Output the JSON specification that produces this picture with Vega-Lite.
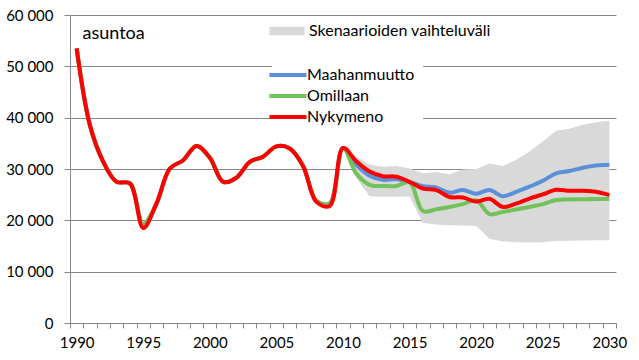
{
  "$schema": "https://vega.github.io/schema/vega-lite/v6.json",
  "width": 546,
  "height": 308,
  "autosize": "none",
  "padding": {"left": 70, "top": 15, "right": 23, "bottom": 37},
  "background": "white",
  "config": {
    "view": {"stroke": null},
    "font": "Lato",
    "axis": {"labelFont": "Lato", "labelFontSize": 15, "labelColor": "#000000", "domainColor": "#878787", "tickColor": "#878787", "gridColor": "#878787", "gridWidth": 1}
  },
  "resolve": {"axis": {"x": "independent", "y": "independent"}},
  "datasets": {
    "lines": [
      {"year": 1990, "series": "Maahanmuutto", "value": 53500},
      {"year": 1991, "series": "Maahanmuutto", "value": 38500},
      {"year": 1992, "series": "Maahanmuutto", "value": 31400},
      {"year": 1993, "series": "Maahanmuutto", "value": 27500},
      {"year": 1994, "series": "Maahanmuutto", "value": 27200},
      {"year": 1995, "series": "Maahanmuutto", "value": 19300},
      {"year": 1996, "series": "Maahanmuutto", "value": 23300},
      {"year": 1997, "series": "Maahanmuutto", "value": 30100},
      {"year": 1998, "series": "Maahanmuutto", "value": 31700},
      {"year": 1999, "series": "Maahanmuutto", "value": 34500},
      {"year": 2000, "series": "Maahanmuutto", "value": 32200},
      {"year": 2001, "series": "Maahanmuutto", "value": 27500},
      {"year": 2002, "series": "Maahanmuutto", "value": 28300},
      {"year": 2003, "series": "Maahanmuutto", "value": 31400},
      {"year": 2004, "series": "Maahanmuutto", "value": 32400},
      {"year": 2005, "series": "Maahanmuutto", "value": 34400},
      {"year": 2006, "series": "Maahanmuutto", "value": 34000},
      {"year": 2007, "series": "Maahanmuutto", "value": 30600},
      {"year": 2008, "series": "Maahanmuutto", "value": 23800},
      {"year": 2009, "series": "Maahanmuutto", "value": 23300},
      {"year": 2010, "series": "Maahanmuutto", "value": 34100},
      {"year": 2011, "series": "Maahanmuutto", "value": 30800},
      {"year": 2012, "series": "Maahanmuutto", "value": 28700},
      {"year": 2013, "series": "Maahanmuutto", "value": 27900},
      {"year": 2014, "series": "Maahanmuutto", "value": 28000},
      {"year": 2015, "series": "Maahanmuutto", "value": 27500},
      {"year": 2016, "series": "Maahanmuutto", "value": 26650},
      {"year": 2017, "series": "Maahanmuutto", "value": 26400},
      {"year": 2018, "series": "Maahanmuutto", "value": 25400},
      {"year": 2019, "series": "Maahanmuutto", "value": 25900},
      {"year": 2020, "series": "Maahanmuutto", "value": 25200},
      {"year": 2021, "series": "Maahanmuutto", "value": 25900},
      {"year": 2022, "series": "Maahanmuutto", "value": 24700},
      {"year": 2023, "series": "Maahanmuutto", "value": 25550},
      {"year": 2024, "series": "Maahanmuutto", "value": 26550},
      {"year": 2025, "series": "Maahanmuutto", "value": 27700},
      {"year": 2026, "series": "Maahanmuutto", "value": 29150},
      {"year": 2027, "series": "Maahanmuutto", "value": 29600},
      {"year": 2028, "series": "Maahanmuutto", "value": 30250},
      {"year": 2029, "series": "Maahanmuutto", "value": 30700},
      {"year": 2030, "series": "Maahanmuutto", "value": 30850},
      {"year": 1990, "series": "Omillaan", "value": 53500},
      {"year": 1991, "series": "Omillaan", "value": 38500},
      {"year": 1992, "series": "Omillaan", "value": 31400},
      {"year": 1993, "series": "Omillaan", "value": 27500},
      {"year": 1994, "series": "Omillaan", "value": 27200},
      {"year": 1995, "series": "Omillaan", "value": 19300},
      {"year": 1996, "series": "Omillaan", "value": 23300},
      {"year": 1997, "series": "Omillaan", "value": 30100},
      {"year": 1998, "series": "Omillaan", "value": 31700},
      {"year": 1999, "series": "Omillaan", "value": 34500},
      {"year": 2000, "series": "Omillaan", "value": 32200},
      {"year": 2001, "series": "Omillaan", "value": 27500},
      {"year": 2002, "series": "Omillaan", "value": 28300},
      {"year": 2003, "series": "Omillaan", "value": 31400},
      {"year": 2004, "series": "Omillaan", "value": 32400},
      {"year": 2005, "series": "Omillaan", "value": 34400},
      {"year": 2006, "series": "Omillaan", "value": 34000},
      {"year": 2007, "series": "Omillaan", "value": 30600},
      {"year": 2008, "series": "Omillaan", "value": 23800},
      {"year": 2009, "series": "Omillaan", "value": 23300},
      {"year": 2010, "series": "Omillaan", "value": 34100},
      {"year": 2011, "series": "Omillaan", "value": 29100},
      {"year": 2012, "series": "Omillaan", "value": 26900},
      {"year": 2013, "series": "Omillaan", "value": 26700},
      {"year": 2014, "series": "Omillaan", "value": 26700},
      {"year": 2015, "series": "Omillaan", "value": 27400},
      {"year": 2016, "series": "Omillaan", "value": 21800},
      {"year": 2017, "series": "Omillaan", "value": 22150},
      {"year": 2018, "series": "Omillaan", "value": 22600},
      {"year": 2019, "series": "Omillaan", "value": 23150},
      {"year": 2020, "series": "Omillaan", "value": 23900},
      {"year": 2021, "series": "Omillaan", "value": 21200},
      {"year": 2022, "series": "Omillaan", "value": 21650},
      {"year": 2023, "series": "Omillaan", "value": 22100},
      {"year": 2024, "series": "Omillaan", "value": 22600},
      {"year": 2025, "series": "Omillaan", "value": 23150},
      {"year": 2026, "series": "Omillaan", "value": 23950},
      {"year": 2027, "series": "Omillaan", "value": 24050},
      {"year": 2028, "series": "Omillaan", "value": 24100},
      {"year": 2029, "series": "Omillaan", "value": 24150},
      {"year": 2030, "series": "Omillaan", "value": 24150},
      {"year": 1990, "series": "Nykymeno", "value": 53500},
      {"year": 1991, "series": "Nykymeno", "value": 38500},
      {"year": 1992, "series": "Nykymeno", "value": 31400},
      {"year": 1993, "series": "Nykymeno", "value": 27500},
      {"year": 1994, "series": "Nykymeno", "value": 27200},
      {"year": 1995, "series": "Nykymeno", "value": 18500},
      {"year": 1996, "series": "Nykymeno", "value": 23300},
      {"year": 1997, "series": "Nykymeno", "value": 30100},
      {"year": 1998, "series": "Nykymeno", "value": 31700},
      {"year": 1999, "series": "Nykymeno", "value": 34500},
      {"year": 2000, "series": "Nykymeno", "value": 32200},
      {"year": 2001, "series": "Nykymeno", "value": 27500},
      {"year": 2002, "series": "Nykymeno", "value": 28300},
      {"year": 2003, "series": "Nykymeno", "value": 31400},
      {"year": 2004, "series": "Nykymeno", "value": 32400},
      {"year": 2005, "series": "Nykymeno", "value": 34400},
      {"year": 2006, "series": "Nykymeno", "value": 34000},
      {"year": 2007, "series": "Nykymeno", "value": 30600},
      {"year": 2008, "series": "Nykymeno", "value": 23600},
      {"year": 2009, "series": "Nykymeno", "value": 22800},
      {"year": 2010, "series": "Nykymeno", "value": 34100},
      {"year": 2011, "series": "Nykymeno", "value": 31500},
      {"year": 2012, "series": "Nykymeno", "value": 29500},
      {"year": 2013, "series": "Nykymeno", "value": 28600},
      {"year": 2014, "series": "Nykymeno", "value": 28500},
      {"year": 2015, "series": "Nykymeno", "value": 27500},
      {"year": 2016, "series": "Nykymeno", "value": 26200},
      {"year": 2017, "series": "Nykymeno", "value": 25900},
      {"year": 2018, "series": "Nykymeno", "value": 24550},
      {"year": 2019, "series": "Nykymeno", "value": 24450},
      {"year": 2020, "series": "Nykymeno", "value": 23650},
      {"year": 2021, "series": "Nykymeno", "value": 24200},
      {"year": 2022, "series": "Nykymeno", "value": 22600},
      {"year": 2023, "series": "Nykymeno", "value": 23250},
      {"year": 2024, "series": "Nykymeno", "value": 24250},
      {"year": 2025, "series": "Nykymeno", "value": 25050},
      {"year": 2026, "series": "Nykymeno", "value": 25950},
      {"year": 2027, "series": "Nykymeno", "value": 25750},
      {"year": 2028, "series": "Nykymeno", "value": 25750},
      {"year": 2029, "series": "Nykymeno", "value": 25550},
      {"year": 2030, "series": "Nykymeno", "value": 24900}
    ],
    "band": [
      {"year": 2010, "lo": 34100, "hi": 34100},
      {"year": 2011, "lo": 28200, "hi": 32400},
      {"year": 2012, "lo": 24700, "hi": 30900},
      {"year": 2013, "lo": 24600, "hi": 30450},
      {"year": 2014, "lo": 24600, "hi": 30600},
      {"year": 2015, "lo": 24600, "hi": 30100},
      {"year": 2016, "lo": 19500, "hi": 29150},
      {"year": 2017, "lo": 19200, "hi": 29400},
      {"year": 2018, "lo": 19050, "hi": 29000},
      {"year": 2019, "lo": 19000, "hi": 29900},
      {"year": 2020, "lo": 18900, "hi": 30000},
      {"year": 2021, "lo": 16400, "hi": 31050},
      {"year": 2022, "lo": 15900, "hi": 30600},
      {"year": 2023, "lo": 15750, "hi": 31770},
      {"year": 2024, "lo": 15700, "hi": 33400},
      {"year": 2025, "lo": 15750, "hi": 35360},
      {"year": 2026, "lo": 15950, "hi": 37460},
      {"year": 2027, "lo": 16000, "hi": 37850},
      {"year": 2028, "lo": 16050, "hi": 38630},
      {"year": 2029, "lo": 16100, "hi": 39100},
      {"year": 2030, "lo": 16100, "hi": 39400}
    ]
  },
  "layer": [
    {
      "data": {"name": "band"},
      "mark": {"type": "area", "opacity": 1},
      "encoding": {
        "x": {
          "field": "year", "type": "quantitative",
          "scale": {"domain": [1989.5, 2030.5], "nice": false, "zero": false},
          "axis": {
            "orient": "bottom",
            "title": null,
            "grid": false,
            "labels": false,
            "values": [1989.5, 1990.5, 1991.5, 1992.5, 1993.5, 1994.5, 1995.5, 1996.5, 1997.5, 1998.5, 1999.5, 2000.5, 2001.5, 2002.5, 2003.5, 2004.5, 2005.5, 2006.5, 2007.5, 2008.5, 2009.5, 2010.5, 2011.5, 2012.5, 2013.5, 2014.5, 2015.5, 2016.5, 2017.5, 2018.5, 2019.5, 2020.5, 2021.5, 2022.5, 2023.5, 2024.5, 2025.5, 2026.5, 2027.5, 2028.5, 2029.5, 2030.5],
            "tickSize": 5
          }
        },
        "y": {
          "field": "lo", "type": "quantitative",
          "scale": {"domain": [0, 60000], "nice": false},
          "axis": {
            "title": "asuntoa",
            "titleAngle": 0,
            "titleX": 12,
            "titleY": 18,
            "titleAlign": "left",
            "titleBaseline": "middle",
            "titleFont": "Lato",
            "titleFontSize": 18,
            "titleFontWeight": "normal",
            "titleColor": "#000000",
            "values": [0, 10000, 20000, 30000, 40000, 50000, 60000],
            "labelExpr": "replace(format(datum.value, ','), ',', ' ')",
            "tickSize": 6,
            "labelPadding": 11,
            "grid": true
          }
        },
        "y2": {"field": "hi"},
        "fill": {
          "datum": "Skenaarioiden vaihteluväli",
          "type": "nominal",
          "scale": {"range": ["#d9d9d9"]},
          "legend": {
            "title": null,
            "orient": "none",
            "legendX": 208,
            "legendY": 7,
            "symbolType": "M-2,-0.5H2V0.5H-2Z",
            "symbolSize": 306,
            "symbolStrokeWidth": 0,
            "symbolOpacity": 1,
            "labelFont": "Lato",
            "labelFontSize": 16,
            "labelColor": "#000000",
            "labelOffset": 13,
            "labelLimit": 400,
            "padding": 0
          }
        }
      }
    },
    {
      "data": {"name": "lines"},
      "mark": {"type": "line", "strokeWidth": 4, "interpolate": "catmull-rom"},
      "encoding": {
        "x": {
          "field": "year", "type": "quantitative",
          "axis": {
            "orient": "bottom",
            "title": null,
            "grid": false,
            "domain": false,
            "ticks": false,
            "values": [1990, 1995, 2000, 2005, 2010, 2015, 2020, 2025, 2030],
            "format": "d",
            "labelOverlap": false,
            "labelFlush": false,
            "labelPadding": 12
          }
        },
        "y": {"field": "value", "type": "quantitative", "axis": null},
        "color": {
          "field": "series",
          "type": "nominal",
          "scale": {"domain": ["Maahanmuutto", "Omillaan", "Nykymeno"], "range": ["#5b8fd8", "#72c25a", "#ff0000"]},
          "legend": {
            "title": null,
            "orient": "none",
            "legendX": 202,
            "legendY": 44,
            "symbolType": "M-4,0H4",
            "symbolSize": 86,
            "symbolStrokeWidth": 4,
            "labelFont": "Lato",
            "labelFontSize": 16,
            "labelColor": "#000000",
            "labelOffset": 11,
            "rowPadding": 5,
            "padding": 8,
            "fillColor": "white"
          }
        }
      }
    }
  ]
}
